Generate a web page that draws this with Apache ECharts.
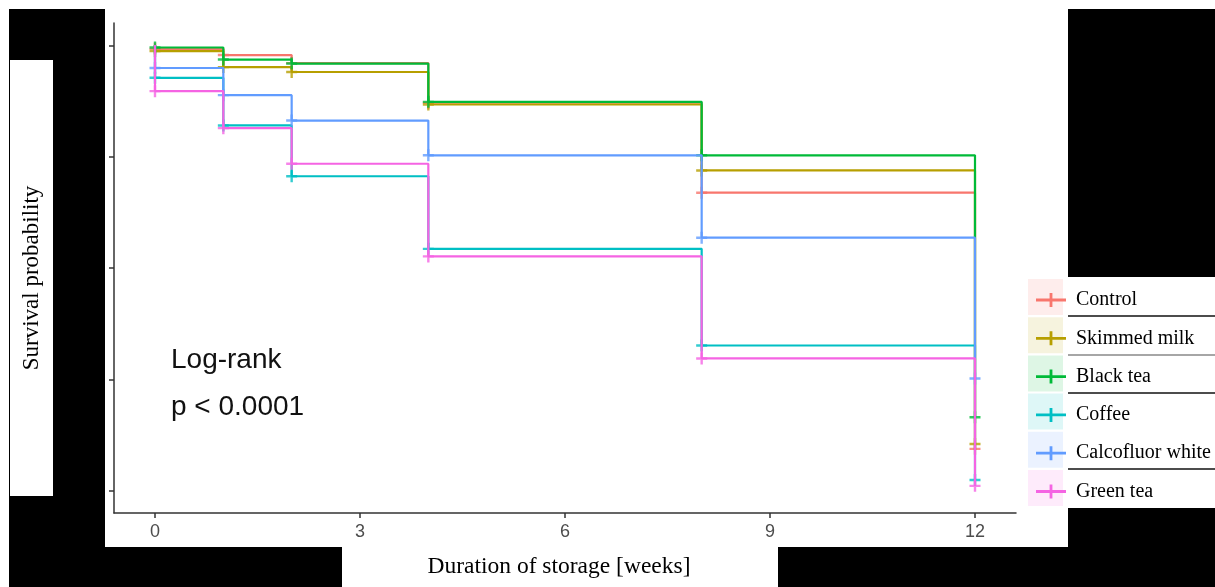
<!DOCTYPE html>
<html>
<head>
<meta charset="utf-8">
<script src="https://cdn.jsdelivr.net/npm/echarts@6/dist/echarts.min.js"></script>
<style>
  html, body { margin: 0; padding: 0; background: #ffffff; }
  #chart { width: 1215px; height: 587px; }
</style>
</head>
<body>
<div id="chart"></div>
<script>
// Kaplan-Meier survival estimates per treatment, read at each storage time (weeks)
const weeks = [0, 1, 2, 4, 8, 12];
const groups = ['Control', 'Skimmed milk', 'Black tea', 'Coffee', 'Calcofluor white', 'Green tea'];
const control     = [0.992, 0.978, 0.960, 0.871, 0.669, 0.094];
const skimmedMilk = [0.987, 0.951, 0.940, 0.867, 0.719, 0.105];
const blackTea    = [0.995, 0.968, 0.959, 0.873, 0.753, 0.165];
const coffee      = [0.927, 0.820, 0.706, 0.543, 0.326, 0.024];
const calcofluor  = [0.949, 0.888, 0.831, 0.753, 0.568, 0.252];
const greenTea    = [0.897, 0.814, 0.734, 0.526, 0.297, 0.011];
const xTicks = [0, 3, 6, 9, 12];
const yTicks = [0, 0.25, 0.5, 0.75, 1];
const startProb = 1;

const colors = ['#F8766D', '#B79F00', '#00BA38', '#00BFC4', '#619CFF', '#F564E3'];
const values = [control, skimmedMilk, blackTea, coffee, calcofluor, greenTea];

// plus-shaped censoring mark
const plusPath = 'path://M0,4.8 H11 V7.2 H0 Z M4.3,0 H6.7 V12 H4.3 Z';
const legendIcon = 'path://M0,5.6 H30 V8.4 H0 Z M13.6,0 H16.4 V14 H13.6 Z';

const series = [];
groups.forEach((name, i) => {
  const pts = weeks.map((w, k) => [w, values[i][k]]);
  series.push({
    name: name,
    type: 'line',
    step: 'end',
    data: [[weeks[0], startProb]].concat(pts),
    showSymbol: false,
    symbol: 'none',
    lineStyle: { color: colors[i], width: 2.2 },
    itemStyle: { color: colors[i] },
    z: 2 + i
  });
  series.push({
    name: name,
    type: 'scatter',
    data: pts,
    symbol: plusPath,
    symbolSize: [11, 12],
    itemStyle: { color: colors[i] },
    z: 2 + i
  });
});

// page furniture: dark panels, legend separators, titles and test annotation
const graphics = [
  { type: 'rect', shape: { x: 9, y: 9, width: 96, height: 538 }, style: { fill: '#000' }, z: -10 },
  { type: 'rect', shape: { x: 10, y: 60, width: 43, height: 436 }, style: { fill: '#fff' }, z: -9 },
  { type: 'rect', shape: { x: 9, y: 547, width: 333, height: 40 }, style: { fill: '#000' }, z: -10 },
  { type: 'rect', shape: { x: 778, y: 547, width: 437, height: 40 }, style: { fill: '#000' }, z: -10 },
  { type: 'rect', shape: { x: 1068, y: 9, width: 147, height: 268 }, style: { fill: '#000' }, z: -10 },
  { type: 'rect', shape: { x: 1068, y: 508, width: 147, height: 79 }, style: { fill: '#000' }, z: -10 },
  { type: 'line', shape: { x1: 1068, y1: 316, x2: 1215, y2: 316 }, style: { stroke: '#111', lineWidth: 1.5 }, z: -10 },
  { type: 'line', shape: { x1: 1068, y1: 355, x2: 1215, y2: 355 }, style: { stroke: '#888', lineWidth: 1.5 }, z: -10 },
  { type: 'line', shape: { x1: 1068, y1: 393, x2: 1215, y2: 393 }, style: { stroke: '#111', lineWidth: 1.5 }, z: -10 },
  { type: 'line', shape: { x1: 1068, y1: 469, x2: 1215, y2: 469 }, style: { stroke: '#111', lineWidth: 1.5 }, z: -10 },
  {
    type: 'text', z: 20, x: 32, y: 278, rotation: Math.PI / 2,
    style: { x: 0, y: 0, text: 'Survival probability', fill: '#000', font: '23px "Liberation Serif", "Times New Roman", serif', align: 'center', verticalAlign: 'middle' }
  },
  {
    type: 'text', z: 20,
    style: { x: 171, y: 360, text: 'Log-rank', fill: '#111', font: '28px "Liberation Sans", Arial, sans-serif', verticalAlign: 'middle' }
  },
  {
    type: 'text', z: 20,
    style: { x: 171, y: 407, text: 'p < 0.0001', fill: '#111', font: '28px "Liberation Sans", Arial, sans-serif', verticalAlign: 'middle' }
  }
];
// tinted key backgrounds in the legend
groups.forEach((g, i) => {
  graphics.push({
    type: 'rect', z: -8,
    shape: { x: 1028, y: 279 + i * 38.2, width: 35, height: 36 },
    style: { fill: colors[i], opacity: 0.13 }
  });
});

const chart = echarts.init(document.getElementById('chart'), null, { renderer: 'canvas' });
chart.setOption({
  animation: false,
  backgroundColor: '#ffffff',
  grid: { left: 114, right: 199, top: 23, bottom: 74 },
  xAxis: {
    type: 'value',
    min: -0.6,
    max: 12.6,
    name: 'Duration of storage [weeks]',
    nameLocation: 'middle',
    nameGap: 42,
    nameTextStyle: { fontFamily: '"Liberation Serif", "Times New Roman", serif', fontSize: 23.5, color: '#000', padding: [0, 12, 0, 0] },
    axisLine: { onZero: false, lineStyle: { color: '#333', width: 1.5 } },
    axisTick: { show: true, length: 5, lineStyle: { color: '#333', width: 1.5 }, customValues: xTicks },
    axisLabel: { customValues: xTicks, margin: 10, fontFamily: '"Liberation Sans", Arial, sans-serif', fontSize: 18, color: '#4D4D4D' },
    splitLine: { show: false }
  },
  yAxis: {
    type: 'value',
    min: -0.05,
    max: 1.05,
    axisLine: { show: true, onZero: false, lineStyle: { color: '#333', width: 1.5 } },
    axisTick: { show: true, length: 5, lineStyle: { color: '#333', width: 1.5 }, customValues: yTicks },
    axisLabel: { show: false, customValues: yTicks },
    splitLine: { show: false }
  },
  legend: {
    data: groups,
    orient: 'vertical',
    left: 1031,
    top: 285,
    itemWidth: 30,
    itemHeight: 14,
    itemGap: 18.3,
    icon: legendIcon,
    textStyle: { fontFamily: '"Liberation Serif", "Times New Roman", serif', fontSize: 20, color: '#000', padding: [0, 0, 0, 5] }
  },
  graphic: graphics,
  series: series
});
</script>
</body>
</html>
